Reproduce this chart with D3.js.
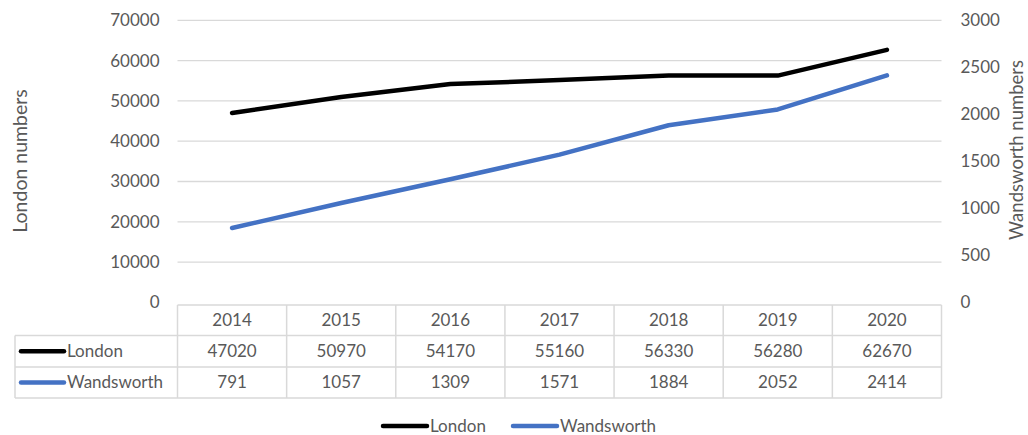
<!DOCTYPE html>
<html><head><meta charset="utf-8">
<script src="https://cdn.jsdelivr.net/npm/d3@7"></script>
<style>body{margin:0;background:#fff}svg{display:block}text{font-family:Lato,"Open Sans",sans-serif;fill:#595959}</style>
</head><body><svg id="c" width="1028" height="435"></svg>
<script>
const years = ["2014","2015","2016","2017","2018","2019","2020"];
const londonValues = [47020,50970,54170,55160,56330,56280,62670];
const wandsworthValues = [791,1057,1309,1571,1884,2052,2414];
const leftTicks = [0,10000,20000,30000,40000,50000,60000,70000];
const rightTicks = [0,500,1000,1500,2000,2500,3000];
const seriesNames = ["London","Wandsworth"];
const seriesColors = ["#000000","#4472C4"];

const svg = d3.select("#c");
const L = 177.5, R = 941.5, T = 20.3, B = 302.4;
const x = d3.scaleBand().domain(years).range([L, R]);
const yL = d3.scaleLinear().domain([0,70000]).range([B, T]);
const yR = d3.scaleLinear().domain([0,3000]).range([B, T]);
const fs = 17;

// gridlines
svg.append("g").selectAll("line").data(leftTicks.filter(d=>d>0)).join("line")
  .attr("x1", L).attr("x2", R).attr("y1", d=>yL(d)).attr("y2", d=>yL(d))
  .attr("stroke","#d9d9d9").attr("stroke-width",1.3);

// left axis
const gl = svg.append("g").attr("transform",`translate(${L-18},0)`)
  .call(d3.axisLeft(yL).tickValues(leftTicks).tickSize(0).tickPadding(0).tickFormat(d3.format("d")));
gl.select(".domain").remove();
gl.selectAll("text").attr("font-size",fs).attr("font-family","Lato").attr("fill","#595959");

// right axis
const gr = svg.append("g").attr("transform",`translate(${R+19},0)`)
  .call(d3.axisRight(yR).tickValues(rightTicks).tickSize(0).tickPadding(0).tickFormat(d3.format("d")));
gr.select(".domain").remove();
gr.selectAll("text").attr("font-size",fs).attr("font-family","Lato").attr("fill","#595959");

// axis titles
svg.append("text").attr("transform",`translate(27,161) rotate(-90)`)
  .attr("text-anchor","middle").attr("font-size",19.5).text("London numbers");
svg.append("text").attr("transform",`translate(1023,150) rotate(-90)`)
  .attr("text-anchor","middle").attr("font-size",18.5).text("Wandsworth numbers");

// lines
const cx = d => x(d) + x.bandwidth()/2;
const lineL = d3.line().x((d,i)=>cx(years[i])).y(d=>yL(d));
const lineR = d3.line().x((d,i)=>cx(years[i])).y(d=>yR(d));
svg.append("path").attr("d", lineR(wandsworthValues)).attr("fill","none")
  .attr("stroke",seriesColors[1]).attr("stroke-width",4.5).attr("stroke-linejoin","round").attr("stroke-linecap","round");
svg.append("path").attr("d", lineL(londonValues)).attr("fill","none")
  .attr("stroke",seriesColors[0]).attr("stroke-width",4.5).attr("stroke-linejoin","round").attr("stroke-linecap","round");

// data table
const r0 = 305, r1 = 335.5, r2 = 367, r3 = 398, TL = 15;
const tb = svg.append("g").attr("stroke","#d9d9d9").attr("stroke-width",1.5);
tb.append("line").attr("x1",L).attr("x2",R).attr("y1",r0).attr("y2",r0);
[r1,r2,r3].forEach(y=>tb.append("line").attr("x1",TL).attr("x2",R).attr("y1",y).attr("y2",y));
tb.append("line").attr("x1",TL).attr("x2",TL).attr("y1",r1).attr("y2",r3);
years.forEach(yy=>tb.append("line").attr("x1",x(yy)).attr("x2",x(yy)).attr("y1",r0).attr("y2",r3));
tb.append("line").attr("x1",R).attr("x2",R).attr("y1",r0).attr("y2",r3);

const tt = svg.append("g").attr("font-size",fs).attr("text-anchor","middle");
tt.selectAll(".yr").data(years).join("text").attr("class","yr")
  .attr("x",d=>cx(d)).attr("y",(r0+r1)/2).attr("dy","0.35em").text(d=>d);
tt.selectAll(".lv").data(londonValues).join("text").attr("class","lv")
  .attr("x",(d,i)=>cx(years[i])).attr("y",(r1+r2)/2).attr("dy","0.35em").text(d=>d);
tt.selectAll(".wv").data(wandsworthValues).join("text").attr("class","wv")
  .attr("x",(d,i)=>cx(years[i])).attr("y",(r2+r3)/2).attr("dy","0.35em").text(d=>d);

// table legend keys
[[r1,r2],[r2,r3]].forEach((rr,i)=>{
  const ym=(rr[0]+rr[1])/2;
  svg.append("line").attr("x1",21).attr("x2",64).attr("y1",ym).attr("y2",ym)
    .attr("stroke",seriesColors[i]).attr("stroke-width",4.5).attr("stroke-linecap","round");
  svg.append("text").attr("x",67).attr("y",ym).attr("dy","0.35em").attr("font-size",fs).text(seriesNames[i]);
});

// bottom legend
const legX = [383, 513];
seriesNames.forEach((n,i)=>{
  const ym = 426;
  svg.append("line").attr("x1",legX[i]).attr("x2",legX[i]+44).attr("y1",ym).attr("y2",ym)
    .attr("stroke",seriesColors[i]).attr("stroke-width",4.5).attr("stroke-linecap","round");
  svg.append("text").attr("x",legX[i]+47).attr("y",ym).attr("dy","0.35em").attr("font-size",fs).text(n);
});
</script></body></html>
